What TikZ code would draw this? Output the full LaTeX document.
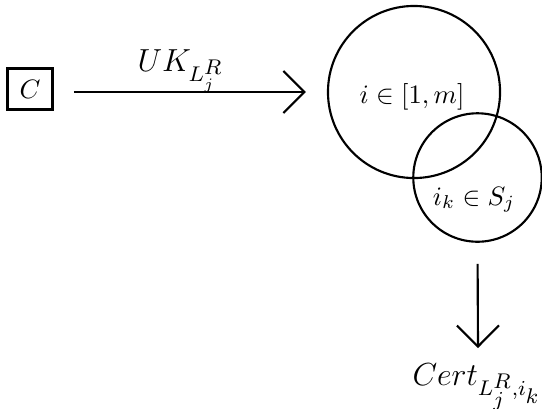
\documentclass[tikz,border=0pt]{standalone}
\usetikzlibrary{arrows.meta}
\begin{document}
\begin{tikzpicture}[x=0.376pt,y=-0.376pt,
  lw/.style={line width=0.8pt},
  arr/.style={lw,-{Straight Barb[length=7.9pt,width=15.8pt,line width=0.8pt]}},
  ring/.style={circle,draw,lw,inner sep=0pt},
  tlabel/.style={anchor=base west,inner sep=0pt}]
\useasboundingbox (0,0) rectangle (542,408);
\node[draw,line width=1.1pt,minimum width=16.9pt,minimum height=15.4pt,inner sep=0pt] (C) at (30,89) {$C$};
\node[ring,minimum size=64.7pt] (big) at (414,92) {};
\node[ring,minimum size=48.3pt] (small) at (477.5,177.5) {};
\node[anchor=base] (lab1) at (412,103) {$i \in [1,m]$};
\node[anchor=base] (lab2) at (474,205) {$i_k \in S_j$};
\node[tlabel] (uk) at (137,71) {\large$UK_{L_j^{\scriptstyle R}}$};
\node[tlabel] (cert) at (412,385) {\large$Cert_{L_{\scriptstyle j}^{\scriptstyle R},i_{\scriptstyle k}}$};
\coordinate (tip) at (478,348);
\draw[arr,shorten <=7.5pt,shorten >=7.9pt] (C.east |- big) -- (big.west);
\draw[arr,shorten <=7.9pt] (small.south) -- (tip);
\end{tikzpicture}
\end{document}
